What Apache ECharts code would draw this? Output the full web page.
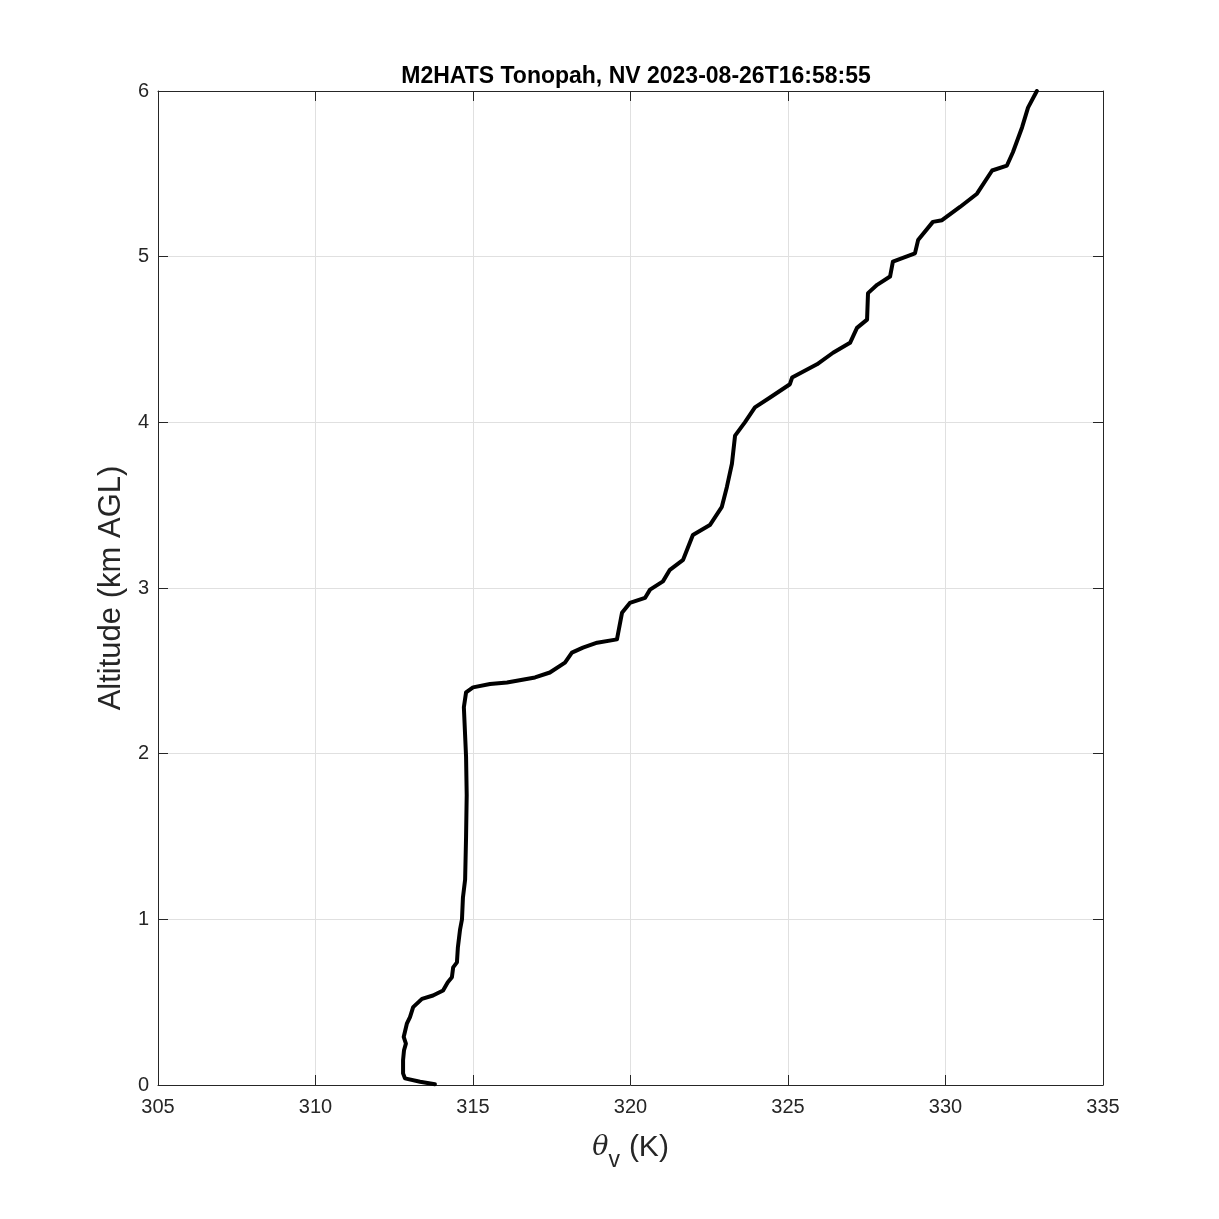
<!DOCTYPE html>
<html><head><meta charset="utf-8">
<script src="https://cdn.jsdelivr.net/npm/echarts@6/dist/echarts.min.js"></script>
<style>html,body{margin:0;padding:0;background:#fff}#c{width:1219px;height:1219px}</style>
</head><body><div id="c"></div>
<script>
const theta = [313.79,313.32,312.84,312.78,312.78,312.81,312.87,312.80,312.90,313.00,313.10,313.38,313.73,314.05,314.20,314.33,314.37,314.49,314.52,314.59,314.65,314.68,314.75,314.78,314.80,314.78,314.71,314.78,315.00,315.54,316.08,316.97,317.44,317.92,318.14,318.49,318.94,319.57,319.60,319.73,319.98,320.46,320.62,321.03,321.25,321.67,321.98,322.52,322.90,323.06,323.22,323.32,323.63,323.95,324.43,325.06,325.13,325.92,326.43,326.97,327.19,327.51,327.54,327.83,328.24,328.33,329.03,329.13,329.60,329.89,330.46,331.00,331.48,331.95,332.14,332.43,332.62,332.90];
const alt = [0.005,0.02,0.04,0.07,0.15,0.21,0.25,0.29,0.37,0.41,0.47,0.52,0.54,0.57,0.62,0.65,0.71,0.74,0.83,0.94,1.00,1.13,1.24,1.50,1.75,1.98,2.28,2.37,2.40,2.42,2.43,2.46,2.49,2.55,2.61,2.64,2.67,2.69,2.70,2.85,2.91,2.94,2.99,3.04,3.11,3.17,3.32,3.38,3.49,3.61,3.75,3.92,4.00,4.09,4.15,4.23,4.27,4.35,4.42,4.48,4.57,4.62,4.78,4.83,4.88,4.97,5.02,5.10,5.21,5.22,5.30,5.38,5.52,5.55,5.63,5.78,5.90,6.00];
const xTicks = [305,310,315,320,325,330,335];
const yTicks = [0,1,2,3,4,5,6];
const titleText = 'M2HATS Tonopah, NV 2023-08-26T16:58:55';

const pts = theta.map((t,i)=>[t,alt[i]]);
const font = '"Liberation Sans", Arial, Helvetica, sans-serif';
const chart = echarts.init(document.getElementById('c'));
const axisLine = {show:true, onZero:false, lineStyle:{color:'#262626', width:1}};
const tick = {show:true, inside:true, length:10, lineStyle:{color:'#262626', width:1}};
chart.setOption({
  animation:false,
  backgroundColor:'#fff',
  title:{text:titleText, left:631, textAlign:'center', top:60, textStyle:{fontFamily:font, fontSize:23, fontWeight:'bold', color:'#000'}},
  grid:{left:158, right:116, top:91, bottom:134},
  xAxis:[{type:'value', min:xTicks[0], max:xTicks[xTicks.length-1], interval:5, position:'bottom',
    axisLine, axisTick:tick,
    axisLabel:{fontFamily:font, fontSize:20, color:'#262626', margin:12},
    splitLine:{show:true, lineStyle:{color:'#e0e0e0', width:1}},
    name:'{t|θ}{s|v}{n|(K)}', nameLocation:'middle', nameGap:38,
    nameTextStyle:{rich:{
      t:{fontFamily:'"DejaVu Serif", serif', fontStyle:'italic', fontSize:27, color:'#262626'},
      s:{fontFamily:font, fontSize:23, color:'#262626', padding:[26,9,0,0]},
      n:{fontFamily:font, fontSize:30, color:'#262626'}}}
  },{type:'value', min:xTicks[0], max:xTicks[xTicks.length-1], interval:5, position:'top',
    axisLine, axisTick:tick, axisLabel:{show:false}, splitLine:{show:false}}],
  yAxis:[{type:'value', min:yTicks[0], max:yTicks[yTicks.length-1], interval:1, position:'left',
    axisLine, axisTick:tick,
    axisLabel:{fontFamily:font, fontSize:20, color:'#262626', margin:9},
    splitLine:{show:true, lineStyle:{color:'#e0e0e0', width:1}},
    name:'Altitude (km AGL)', nameLocation:'middle', nameGap:24,
    nameTextStyle:{fontFamily:font, fontSize:31, color:'#262626'}
  },{type:'value', min:yTicks[0], max:yTicks[yTicks.length-1], interval:1, position:'right',
    axisLine, axisTick:tick, axisLabel:{show:false}, splitLine:{show:false}}],
  series:[{type:'line', data:pts, xAxisIndex:0, yAxisIndex:0, showSymbol:false, smooth:false,
    lineStyle:{color:'#000', width:4, join:'round', cap:'round'}}]
});
</script></body></html>
